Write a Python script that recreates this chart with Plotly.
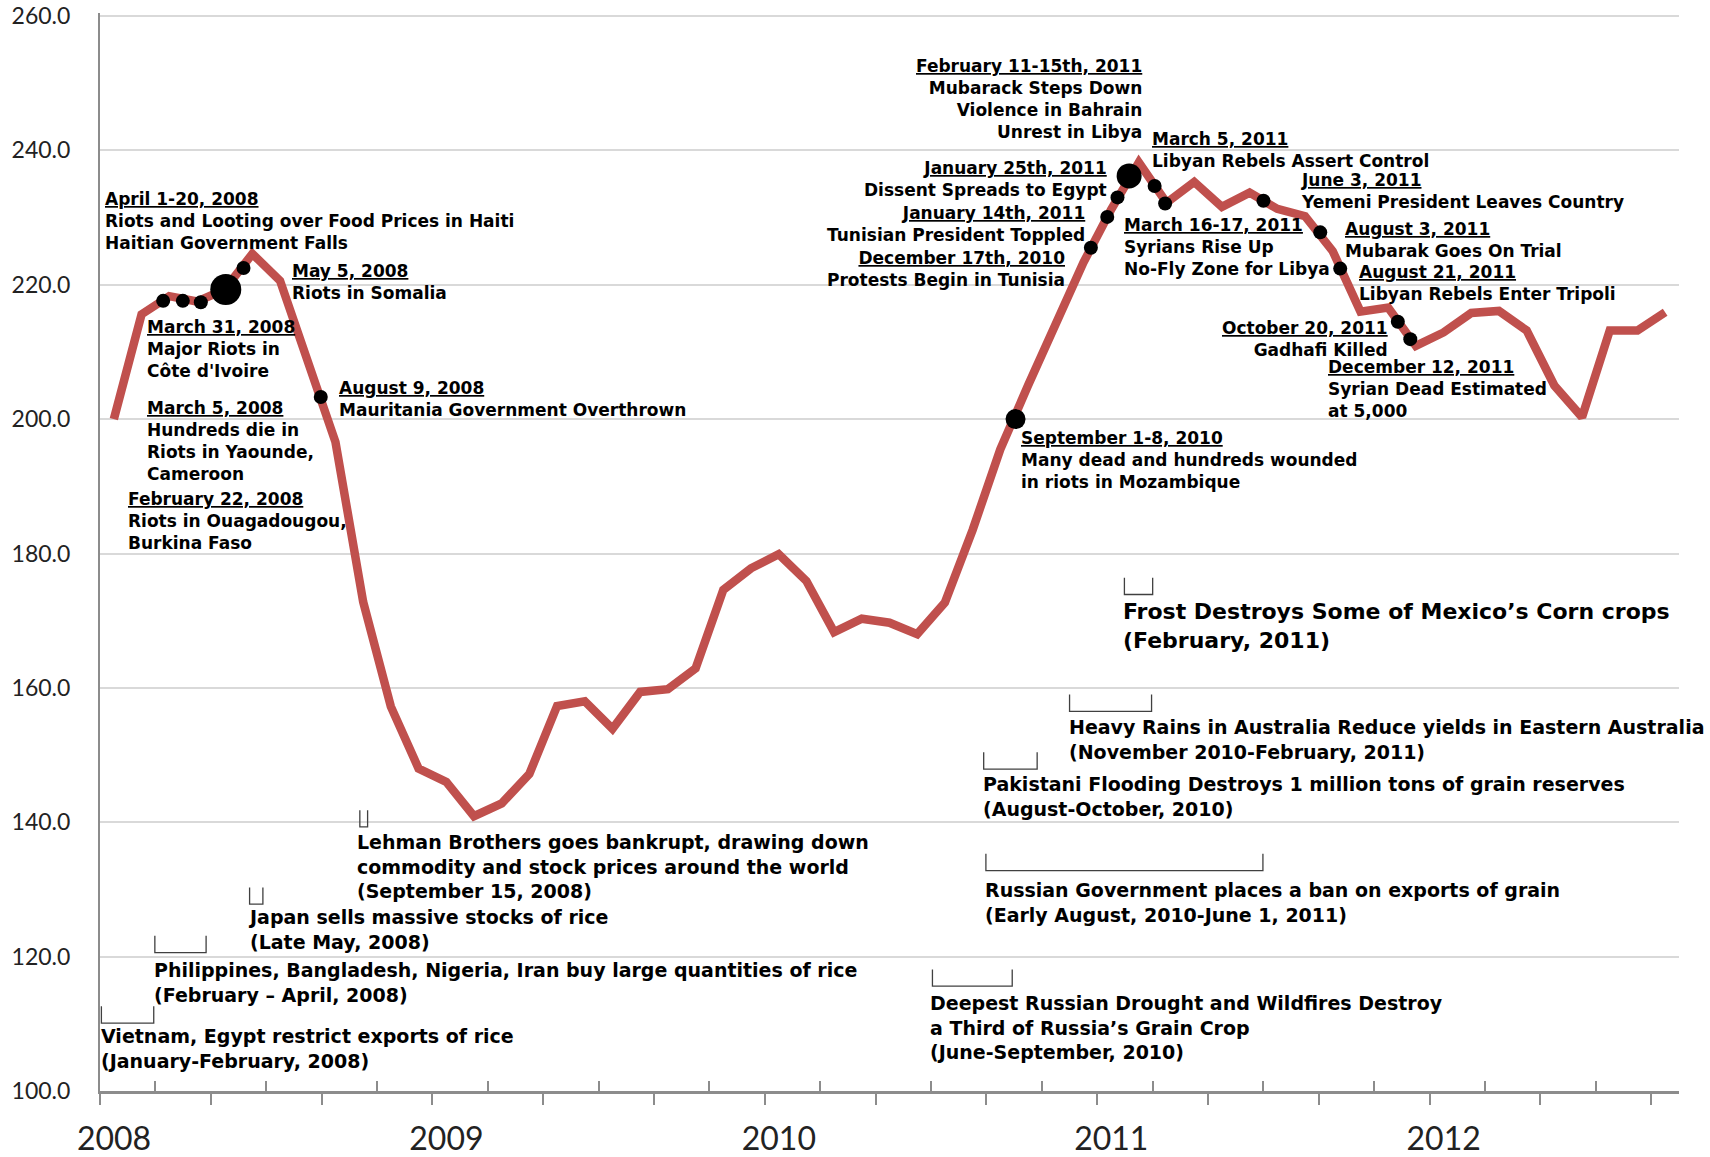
import plotly.graph_objects as go

# FAO-style monthly food price index, Jan 2008 .. Sep 2012
years = ["2008", "2009", "2010", "2011", "2012"]
price_index = [
    200.0, 215.6, 218.3, 217.5, 219.3, 224.6, 220.6, 209.0, 196.6, 172.8, 157.2, 148.0,
    146.0, 140.9, 142.8, 147.2, 157.3, 158.0, 153.9, 159.4, 159.8, 162.9, 174.6, 177.8,
    179.9, 175.9, 168.3, 170.3, 169.7, 168.0, 172.7, 183.5, 195.5, 205.0, 214.4, 223.3,
    231.2, 238.2, 232.2, 235.3, 231.6, 233.7, 231.3, 230.2, 225.0, 216.0, 216.6, 210.9,
    212.9, 215.8, 216.1, 213.2, 205.0, 200.3, 213.2, 213.2, 215.9,
]
month_pos = list(range(len(price_index)))

# unrest events (position in months since Jan 2008, index value)
event_pos = [1.78, 2.49, 3.14, 4.04, 4.68, 7.47, 32.55, 35.27, 35.86, 36.23,
             36.65, 37.57, 37.95, 41.5, 43.55, 44.27, 46.35, 46.8]
event_val = [217.6, 217.6, 217.4, 219.3, 222.5, 203.3, 200.0, 225.5, 230.1, 233.0,
             236.2, 234.7, 232.1, 232.5, 227.8, 222.4, 214.5, 211.9]
event_date = ["February 22, 2008", "March 5, 2008", "March 31, 2008", "April 1-20, 2008",
              "May 5, 2008", "August 9, 2008", "September 1-8, 2010", "December 17th, 2010",
              "January 14th, 2011", "January 25th, 2011", "February 11-15th, 2011",
              "March 5, 2011", "March 16-17, 2011", "June 3, 2011", "August 3, 2011",
              "August 21, 2011", "October 20, 2011", "December 12, 2011"]
event_lines = [
    ["Riots in Ouagadougou,", "Burkina Faso"],
    ["Hundreds die in", "Riots in Yaounde,", "Cameroon"],
    ["Major Riots in", "Côte d'Ivoire"],
    ["Riots and Looting over Food Prices in Haiti", "Haitian Government Falls"],
    ["Riots in Somalia"],
    ["Mauritania Government Overthrown"],
    ["Many dead and hundreds wounded", "in riots in Mozambique"],
    ["Protests Begin in Tunisia"],
    ["Tunisian President Toppled"],
    ["Dissent Spreads to Egypt"],
    ["Mubarack Steps Down", "Violence in Bahrain", "Unrest in Libya"],
    ["Libyan Rebels Assert Control"],
    ["Syrians Rise Up", "No-Fly Zone for Libya"],
    ["Yemeni President Leaves Country"],
    ["Mubarak Goes On Trial"],
    ["Libyan Rebels Enter Tripoli"],
    ["Gadhafi Killed"],
    ["Syrian Dead Estimated", "at 5,000"],
]

# supply shocks: periods (months since Jan 2008) and bracket level
period_start = [-0.45, 1.48, 4.90, 8.88, 29.55, 31.48, 31.40, 34.50, 36.48]
period_end = [1.44, 3.33, 5.38, 9.16, 32.43, 41.48, 33.33, 37.46, 37.50]
period_level = [110.1, 120.6, 127.8, 139.3, 115.6, 132.8, 147.9, 156.5, 173.9]
period_lines = [
    ["Vietnam, Egypt restrict exports of rice", "(January-February, 2008)"],
    ["Philippines, Bangladesh, Nigeria, Iran buy large quantities of rice",
     "(February \u2013 April, 2008)"],
    ["Japan sells massive stocks of rice", "(Late May, 2008)"],
    ["Lehman Brothers goes bankrupt, drawing down",
     "commodity and stock prices around the world", "(September 15, 2008)"],
    ["Deepest Russian Drought and Wildfires Destroy",
     "a Third of Russia\u2019s Grain Crop", "(June-September, 2010)"],
    ["Russian Government places a ban on exports of grain",
     "(Early August, 2010-June 1, 2011)"],
    ["Pakistani Flooding Destroys 1 million tons of grain reserves",
     "(August-October, 2010)"],
    ["Heavy Rains in Australia Reduce yields in Eastern Australia",
     "(November 2010-February, 2011)"],
    ["Frost Destroys Some of Mexico\u2019s Corn crops", "(February, 2011)"],
]

# ---- styling / placement ----
RED = "#c0504d"
AXIS = "#8c8c8c"
TXT = "DejaVu Sans"
dot_sizes = [14, 14, 14, 31, 14, 14, 20, 14, 14, 14, 25, 14, 14, 14, 14, 14, 14, 14]
# (x, y of first line, anchor) for each event label
event_place = [
    (0.50, 188.2, "left"), (1.20, 201.8, "left"), (1.20, 213.9, "left"),
    (-0.33, 232.9, "left"), (6.44, 222.2, "left"), (8.14, 204.8, "left"),
    (32.74, 197.3, "left"), (34.35, 224.1, "right"), (35.06, 230.9, "right"),
    (35.85, 237.6, "right"), (37.11, 252.7, "right"), (37.46, 241.8, "left"),
    (36.48, 229.1, "left"), (42.86, 235.8, "left"), (44.43, 228.5, "left"),
    (44.94, 222.0, "left"), (46.0, 213.7, "right"), (43.84, 207.9, "left"),
]
period_place = [
    (-0.45, 108.3, 19), (1.44, 118.2, 19), (4.86, 126.0, 19),
    (8.76, 137.2, 19), (29.47, 113.3, 19), (31.44, 130.0, 19),
    (31.36, 145.8, 19), (34.47, 154.4, 19), (36.44, 171.3, 22),
]
LEG = 2.5

fig = go.Figure()

bx, by = [], []
for s, e, lv in zip(period_start, period_end, period_level):
    bx += [s, s, e, e, None]
    by += [lv + LEG, lv, lv, lv + LEG, None]
fig.add_trace(go.Scatter(x=bx, y=by, mode="lines", hoverinfo="skip",
                         line=dict(color="#404040", width=1.3)))

fig.add_trace(go.Scatter(x=month_pos, y=price_index, mode="lines",
                         line=dict(color=RED, width=8.5), name="Food Price Index"))

fig.add_trace(go.Scatter(x=event_pos, y=event_val, mode="markers", text=event_date,
                         marker=dict(color="#000000", size=dot_sizes, opacity=1,
                                     line=dict(width=0)),
                         name="Events"))

annotations = []
for date, lines, (x, y, anc) in zip(event_date, event_lines, event_place):
    txt = "<br>".join([f"<u>{date}</u>"] + lines)
    annotations.append(dict(x=x, y=y, xref="x", yref="y", text=txt, showarrow=False,
                            xanchor=anc, align=anc, yanchor="top", yshift=11,
                            xshift=-2 if anc == "left" else 2,
                            font=dict(family=TXT, size=17, color="black", weight="bold")))
for lines, (x, y, fs) in zip(period_lines, period_place):
    annotations.append(dict(x=x, y=y, xref="x", yref="y", text="<br>".join(lines),
                            showarrow=False, xanchor="left", align="left", yanchor="top",
                            yshift=round(0.85 * fs) - 4, xshift=-2,
                            font=dict(family=TXT, size=fs, color="black", weight="bold")))

tickvals = [-0.5 + 4 * k for k in range(15)]
ticktext = [years[int((v + 0.5) // 12)] if (v + 0.5) % 12 == 0 else "" for v in tickvals]

fig.update_layout(
    width=1710, height=1157,
    margin=dict(l=100, r=31, t=13, b=66),
    plot_bgcolor="white", paper_bgcolor="white",
    showlegend=False,
    annotations=annotations,
    xaxis=dict(range=[-0.5, 56.5], showgrid=False, zeroline=False, automargin=False,
               showline=True, linecolor=AXIS, linewidth=2.5,
               tickmode="array", tickvals=tickvals, ticktext=ticktext,
               ticks="outside", ticklen=11, tickwidth=1.5, tickcolor=AXIS,
               ticklabelshift=14, ticklabelstandoff=7,
               tickfont=dict(family="Lato", size=32, color="#222")),
    yaxis=dict(range=[100, 260.446], tickvals=[100, 120, 140, 160, 180, 200, 220, 240, 260],
               tickformat=".1f", automargin=False, ticklabeloverflow="allow",
               showgrid=True, gridcolor="#d9d9d9", gridwidth=1.5, zeroline=False,
               showline=True, linecolor=AXIS, linewidth=2, ticks="",
               ticklabelstandoff=23,
               tickfont=dict(family="Lato", size=23, color="#222")),
)
fig.update_xaxes(minor=dict(tickmode="linear", tick0=1.5, dtick=4, ticks="inside",
                            ticklen=10, tickwidth=1.5, tickcolor=AXIS))

fig.write_html("out.html", config={"displayModeBar": False},
               post_script="document.body.style.margin='0';")
